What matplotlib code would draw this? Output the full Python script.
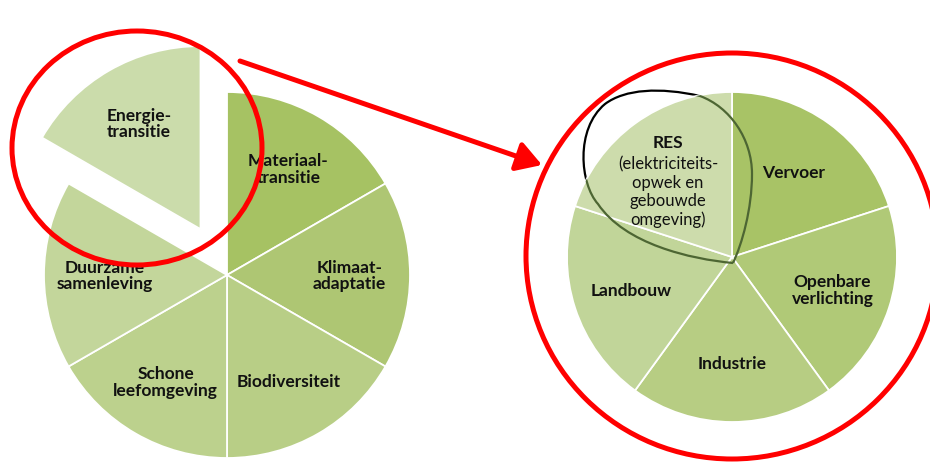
import numpy as np
import matplotlib.pyplot as plt
from matplotlib.patches import Ellipse, Circle, PathPatch
from matplotlib.path import Path

plt.rcParams['font.family'] = ['Lato', 'DejaVu Sans']

# left pie: themes (clockwise from 12 o'clock)
themes = ['Materiaal-\ntransitie', 'Klimaat-\nadaptatie', 'Biodiversiteit',
          'Schone\nleefomgeving', 'Duurzame\nsamenleving', 'Energie-\ntransitie']
theme_share = [1, 1, 1, 1, 1, 1]
theme_colors = ['#a6c263', '#aec673', '#b8ce86', '#bcd18d', '#c3d69b', '#cbdcab']
theme_explode = [0, 0, 0, 0, 0, 53]

# right pie: sectors of the energy transition
sectors = ['Vervoer', 'Openbare\nverlichting', 'Industrie', 'Landbouw', '']
sector_share = [1, 1, 1, 1, 1]
sector_colors = ['#a8c366', '#b0c977', '#b7cd83', '#c1d599', '#cddcac']
res_title = 'RES'
res_sub = '(elektriciteits-\nopwek en\ngebouwde\nomgeving)'

W, H = 930, 464


def px(x, y):
    # image pixel coords -> data coords (y up)
    return x, H - y


fig = plt.figure(figsize=(9.3, 4.64), dpi=100)
ax = fig.add_axes([0, 0, 1, 1])

ax.pie(theme_share, labels=themes, colors=theme_colors, explode=theme_explode,
       startangle=90, counterclock=False, center=px(227, 276), radius=183,
       labeldistance=0.67, frame=True,
       wedgeprops=dict(edgecolor='white', linewidth=1.3),
       textprops=dict(ha='center', va='center', fontsize=12.5, fontweight='bold',
                      color='#111111', linespacing=1.05))

right_c = px(732, 258)
ax.pie(sector_share, labels=sectors, colors=sector_colors,
       startangle=90, counterclock=False, center=right_c, radius=165,
       labeldistance=0.64, frame=True,
       wedgeprops=dict(edgecolor='white', linewidth=1.3),
       textprops=dict(ha='center', va='center', fontsize=12.5, fontweight='bold',
                      color='#111111', linespacing=1.05))
ax.set_xlim(0, W)
ax.set_ylim(0, H)
ax.set_aspect('equal')
ax.axis('off')

ax.text(*px(668, 143), res_title, ha='center', va='center', fontsize=12.5,
        fontweight='bold', color='#111111')
ax.text(*px(668, 192), res_sub, ha='center', va='center', fontsize=12,
        color='#111111', linespacing=1.18)

# heart-shaped outline in the RES slice
pts = [(733, 264), (690, 260), (625, 245), (598, 205),
       (580, 185), (575, 130), (605, 105),
       (625, 90), (660, 88), (700, 97),
       (730, 108), (752, 140), (752, 175),
       (752, 210), (742, 245), (733, 264)]
codes = [Path.MOVETO] + [Path.CURVE4] * 15
heart = Path([px(x, y) for x, y in pts], codes)
ax.add_patch(PathPatch(heart, fill=False, edgecolor='black', lw=1.6, zorder=0.5))
inner = PathPatch(heart, fill=False, edgecolor='#4d6633', lw=1.6, zorder=3)
ax.add_patch(inner)
inner.set_clip_path(Circle(right_c, 165, transform=ax.transData))

# red circles and arrow
ax.add_patch(Ellipse(px(137, 149), 250, 234, fill=False, edgecolor='red', lw=3.6, zorder=4))
ax.add_patch(Ellipse(px(732, 257), 412, 406, fill=False, edgecolor='red', lw=3.6, zorder=4))
ax.annotate('', xy=px(542, 166), xytext=px(240, 62),
            arrowprops=dict(arrowstyle='-|>,head_length=0.75,head_width=0.45',
                            color='red', lw=3.6, shrinkA=0, shrinkB=0,
                            mutation_scale=20), zorder=4)

fig.savefig('out.png', dpi=100)
